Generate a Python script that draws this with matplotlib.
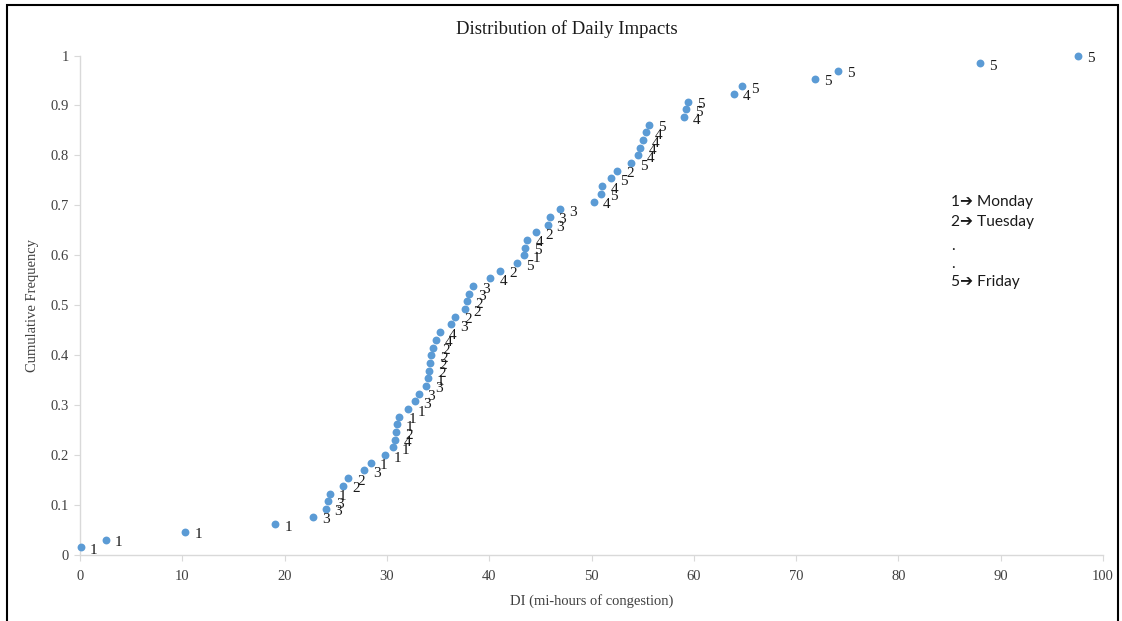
import matplotlib
matplotlib.use("Agg")
import matplotlib.pyplot as plt
from matplotlib.patches import Rectangle

# Daily impact (mi-hours of congestion), sorted ascending
di_values = [0.1, 2.5, 10.3, 19.1, 22.8, 24.0, 24.2, 24.4, 25.7, 26.2,
             27.8, 28.4, 29.8, 30.6, 30.8, 30.9, 31.0, 31.2, 32.1, 32.7,
             33.1, 33.8, 34.0, 34.1, 34.2, 34.3, 34.5, 34.8, 35.2, 36.3,
             36.7, 37.6, 37.8, 38.0, 38.4, 40.1, 41.1, 42.7, 43.4, 43.5,
             43.7, 44.6, 45.7, 45.9, 46.9, 50.2, 50.9, 51.0, 51.9, 52.5,
             53.9, 54.5, 54.7, 55.0, 55.3, 55.6, 59.0, 59.2, 59.4, 63.9,
             64.7, 71.8, 74.1, 88.0, 97.6]

# Day of week for each observation (1 = Monday ... 5 = Friday)
weekday = [1, 1, 1, 1, 3, 3, 3, 1, 2, 2,
           3, 1, 1, 1, 4, 2, 1, 1, 1, 3,
           3, 3, 1, 2, 2, 2, 2, 4, 4, 3,
           2, 2, 2, 3, 3, 4, 2, 5, 1, 5,
           4, 2, 3, 3, 3, 4, 5, 4, 5, 2,
           5, 4, 4, 4, 4, 5, 4, 5, 5, 4,
           5, 5, 5, 5, 5]

n = len(di_values)
cum_freq = [(i + 1) / n for i in range(n)]

x_ticks = list(range(0, 101, 10))
y_ticks = [0, 0.1, 0.2, 0.3, 0.4, 0.5, 0.6, 0.7, 0.8, 0.9, 1]
y_tick_labels = ["0", "0.1", "0.2", "0.3", "0.4", "0.5", "0.6", "0.7", "0.8", "0.9", "1"]

key_lines = ["1\u2794 Monday", "2\u2794 Tuesday", ".", ".", "5\u2794 Friday"]

serif = ["Liberation Serif", "DejaVu Serif"]
sans = ["Lato", "DejaVu Sans"]

fig = plt.figure(figsize=(11.22, 6.21), dpi=100)
ax = fig.add_axes([0.0713, 0.1063, 0.9118, 0.8043])

ax.scatter(di_values, cum_freq, s=32, color="#5B9BD5", zorder=3, linewidths=0, clip_on=False)
for xv, yv, d in zip(di_values, cum_freq, weekday):
    ax.annotate(str(d), (xv, yv), xytext=(6.5, -2.2), textcoords="offset points",
                ha="left", va="center", fontsize=11, family=serif, color="#1a1a1a")

ax.set_xlim(0, 100)
ax.set_ylim(0, 1)
ax.set_xticks(x_ticks)
ax.set_xticklabels([str(t) for t in x_ticks], family=serif, fontsize=10.5, color="#404040")
ax.set_yticks(y_ticks)
ax.set_yticklabels(y_tick_labels, family=serif, fontsize=10.5, color="#404040")
ax.tick_params(axis="x", direction="out", length=4, width=0.8, color="#d9d9d9", pad=7)
ax.tick_params(axis="y", direction="out", length=4, width=0.8, color="#d9d9d9", pad=4)

for side in ("top", "right"):
    ax.spines[side].set_visible(False)
for side in ("left", "bottom"):
    ax.spines[side].set_color("#d9d9d9")
    ax.spines[side].set_linewidth(1.0)

ax.set_xlabel("DI (mi-hours of congestion)", family=serif, fontsize=10.5, color="#404040", labelpad=8)
ax.set_ylabel("Cumulative Frequency", family=serif, fontsize=10.5, color="#404040", labelpad=8)

fig.text(0.505, 0.953, "Distribution of Daily Impacts", ha="center", va="center",
         family=serif, fontsize=13.5, color="#1a1a1a")

# Day-of-week key
key_y = [0.675, 0.643, 0.604, 0.575, 0.546]
for txt, yy in zip(key_lines, key_y):
    fig.text(0.848, yy, txt, ha="left", va="center", family=sans, fontsize=11.2, color="#1a1a1a")

# Chart area border
fig.patches.append(Rectangle((7 / 1122, -0.05), (1118 - 7) / 1122, 1.05 - 5 / 621,
                             transform=fig.transFigure, fill=False,
                             edgecolor="black", linewidth=1.5))

fig.savefig("out.png", dpi=100)
